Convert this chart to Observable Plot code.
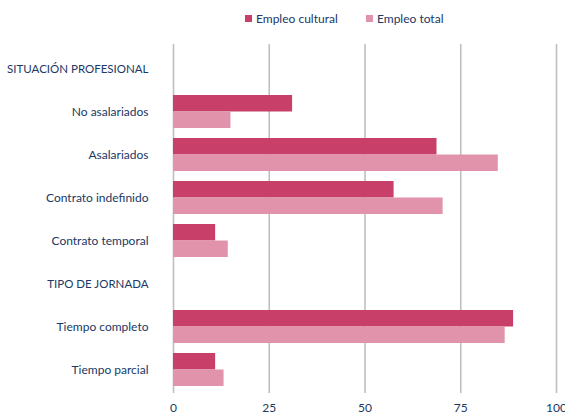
<!DOCTYPE html>
<html>
<head>
<meta charset="utf-8">
<script src="https://cdn.jsdelivr.net/npm/d3@7"></script>
<script src="https://cdn.jsdelivr.net/npm/@observablehq/plot@0.6"></script>
<style>
  body { margin: 0; background: #fff; font-family: Lato, "Open Sans", sans-serif; }
  #legend { position: relative; height: 36px; width: 565px; }
  .item { position: absolute; top: 11px; font-size: 12px; color: #203864; display: flex; align-items: center; }
  .sw { width: 7px; height: 7px; margin-right: 4px; display: inline-block; }
  svg { display: block; overflow: visible; }
</style>
</head>
<body>
<div id="legend"></div>
<div id="chart"></div>
<script>
const categories = ["SITUACIÓN PROFESIONAL", "No asalariados", "Asalariados", "Contrato indefinido", "Contrato temporal", "TIPO DE JORNADA", "Tiempo completo", "Tiempo parcial"];
const headers = ["SITUACIÓN PROFESIONAL", "TIPO DE JORNADA"];
const series = ["Empleo cultural", "Empleo total"];
const cultural = [null, 31.1, 68.8, 57.6, 11.0, null, 88.8, 11.0];
const total = [null, 15.0, 84.8, 70.4, 14.3, null, 86.6, 13.2];
const ticks = [0, 25, 50, 75, 100];
const colors = ["#C8406A", "#E093AA"];

const legend = document.getElementById("legend");
const lefts = [245, 366];
series.forEach((s, i) => {
  const d = document.createElement("div");
  d.className = "item";
  d.style.left = lefts[i] + "px";
  d.innerHTML = `<span class="sw" style="background:${colors[i]}"></span>${s}`;
  legend.appendChild(d);
});

const rows = [];
categories.forEach((c, i) => {
  if (cultural[i] != null) rows.push({cat: c, s: series[0], v: cultural[i]});
  if (total[i] != null) rows.push({cat: c, s: series[1], v: total[i]});
});

const chart = Plot.plot({
  width: 565,
  height: 379,
  marginTop: 8,
  marginBottom: 22,
  marginLeft: 173,
  marginRight: 9,
  style: {fontFamily: "Lato, 'Open Sans', sans-serif", fontSize: "12px", color: "#203864", overflow: "visible"},
  x: {domain: [0, 100], ticks: ticks, label: null, axis: null},
  y: {domain: categories, paddingInner: 0.24, paddingOuter: 0.12, label: null, axis: null},
  color: {domain: series, range: colors},
  marks: [
    Plot.ruleX(ticks, {stroke: "#BFBFBF", strokeWidth: 1.6, strokeOpacity: 1}),
    Plot.barX(rows.filter(d => d.s === series[0]), {x: "v", y: "cat", fill: colors[0], insetBottom: 16.5}),
    Plot.barX(rows.filter(d => d.s === series[1]), {x: "v", y: "cat", fill: colors[1], insetTop: 16.5}),
    Plot.axisX({ticks: ticks, tickSize: 0, tickPadding: 10, label: null}),
    Plot.text(categories, {
      y: d => d,
      frameAnchor: "left",
      textAnchor: "end",
      dx: -25,
      fill: "#203864",
      fontSize: d => headers.includes(d) ? 11.5 : 12
    })
  ]
});
document.getElementById("chart").appendChild(chart);
</script>
</body>
</html>
